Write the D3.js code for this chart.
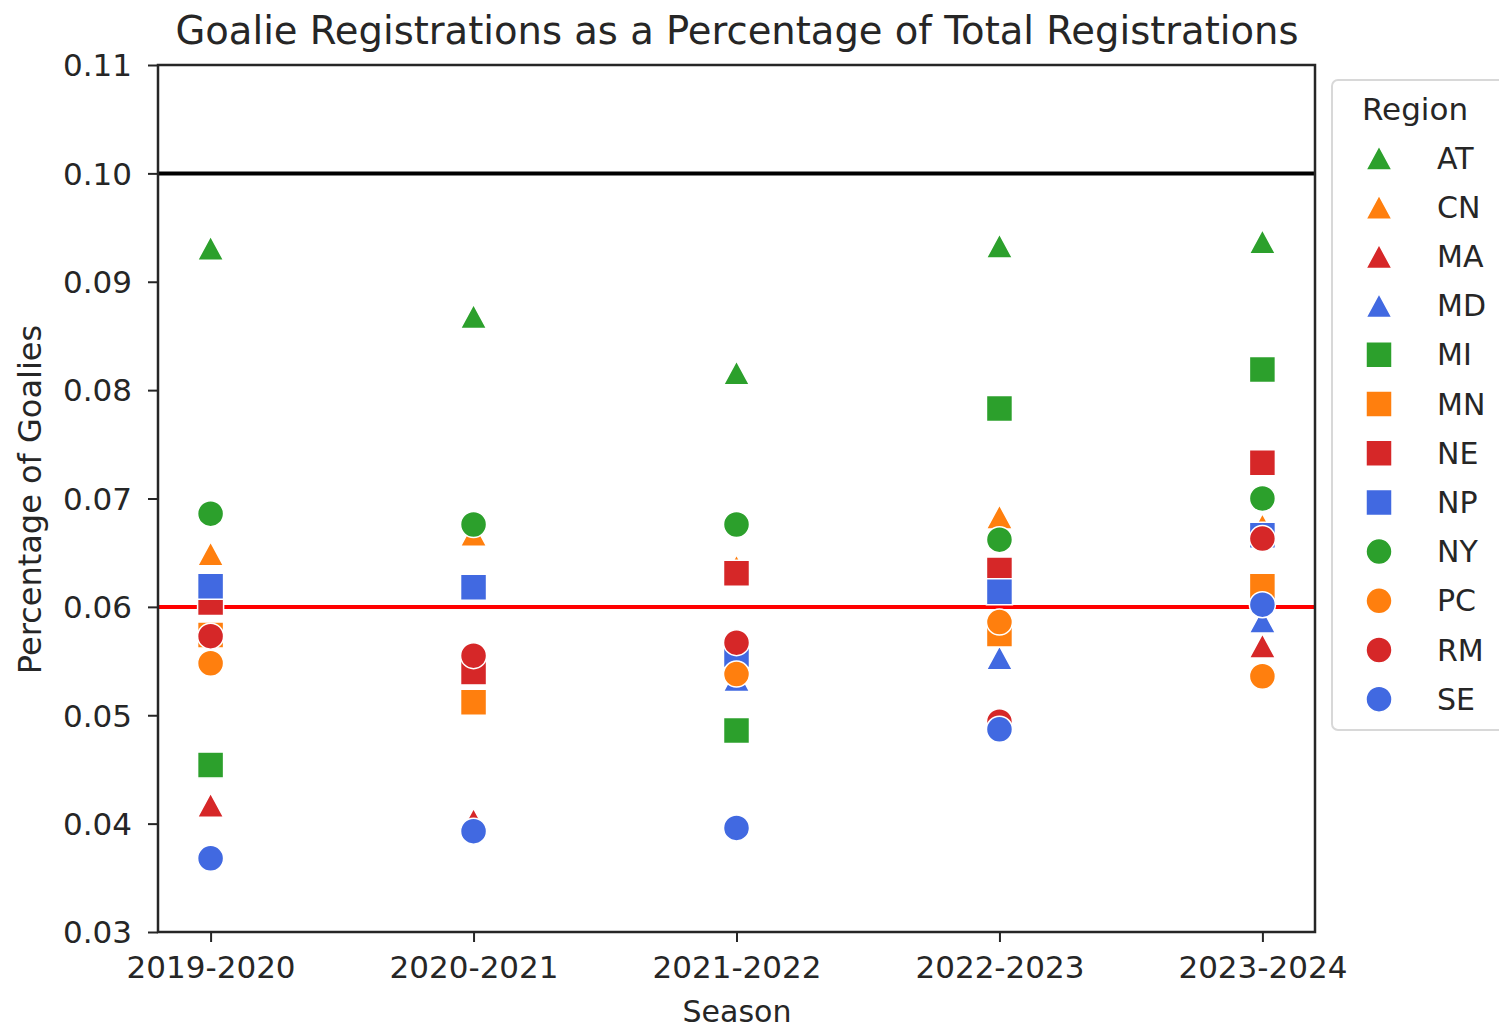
<!DOCTYPE html>
<html>
<head>
<meta charset="utf-8">
<script src="https://cdn.jsdelivr.net/npm/d3@7"></script>
<style>
  html, body { margin: 0; padding: 0; background: #fff; }
  text { font-family: "DejaVu Sans", sans-serif; fill: #262626; }
</style>
</head>
<body>
<svg id="chart" width="1499" height="1029"></svg>
<script>
const seasons = ["2019-2020", "2020-2021", "2021-2022", "2022-2023", "2023-2024"];
const regions = ["AT", "CN", "MA", "MD", "MI", "MN", "NE", "NP", "NY", "PC", "RM", "SE"];
const yTicks = [0.03, 0.04, 0.05, 0.06, 0.07, 0.08, 0.09, 0.10, 0.11];
const refLines = [0.10, 0.06];

// values per region, one per season (null = not visible in the reference)
const AT = [0.0931, 0.0868, 0.0816, 0.0933, 0.0937];
const CN = [0.0649, 0.0667, 0.0637, 0.0683, 0.0675];
const MA = [0.0417, 0.0403, null, null, 0.0564];
const MD = [null, null, 0.0533, 0.0553, 0.0587];
const MI = [0.0454, null, 0.0486, 0.0783, 0.0819];
const MN = [0.0574, 0.0512, null, 0.0575, 0.0619];
const NE = [0.0604, 0.0540, 0.0631, 0.0634, 0.0733];
const NP = [0.0619, 0.0618, 0.0556, 0.0614, 0.0666];
const NY = [0.0686, 0.0676, 0.0676, 0.0662, 0.0700];
const PC = [0.0548, null, 0.0538, 0.0586, 0.0536];
const RM = [0.0573, 0.0555, 0.0567, 0.0494, 0.0663];
const SE = [0.0368, 0.0393, 0.0396, 0.0487, 0.0602];

const seriesValues = { AT, CN, MA, MD, MI, MN, NE, NP, NY, PC, RM, SE };
const regionColors = ["#2ca02c", "#ff7f0e", "#d62728", "#4169e1"];
const regionShapes = ["triangle", "triangle", "triangle", "triangle",
                      "square", "square", "square", "square",
                      "circle", "circle", "circle", "circle"];

const svg = d3.select("#chart");
const M = { left: 158, right: 1315, top: 65, bottom: 932 };

const x = d3.scalePoint().domain(seasons).range([M.left, M.right]).padding(0.2);
const y = d3.scaleLinear().domain([0.03, 0.11]).range([M.bottom, M.top]);

const S = 26;
function shapePath(shape) {
  const h = S / 2;
  if (shape === "triangle") {
    const th = 12;
    return `M0,${-th} L${h},${th} L${-h},${th} Z`;
  }
  if (shape === "square") {
    return `M${-h},${-h} H${h} V${h} H${-h} Z`;
  }
  return d3.symbol(d3.symbolCircle, Math.PI * h * h)();
}

// title
svg.append("text")
  .attr("x", 737).attr("y", 44)
  .attr("text-anchor", "middle")
  .style("font-size", "38.5px")
  .text("Goalie Registrations as a Percentage of Total Registrations");

// reference lines
svg.append("line")
  .attr("x1", M.left).attr("x2", M.right)
  .attr("y1", y(refLines[0])).attr("y2", y(refLines[0]))
  .attr("stroke", "#000").attr("stroke-width", 4);
svg.append("line")
  .attr("x1", M.left).attr("x2", M.right)
  .attr("y1", y(refLines[1])).attr("y2", y(refLines[1]))
  .attr("stroke", "#ff0000").attr("stroke-width", 4);

// points
const pts = [];
seasons.forEach((s, si) => {
  regions.forEach((r, ri) => {
    const v = seriesValues[r][si];
    if (v !== null) pts.push({ season: s, region: r, ri, v });
  });
});
svg.append("g").selectAll("path").data(pts).join("path")
  .attr("d", d => shapePath(regionShapes[d.ri]))
  .attr("transform", d => `translate(${x(d.season)},${y(d.v)})`)
  .attr("fill", d => regionColors[d.ri % 4])
  .attr("stroke", "#fff").attr("stroke-width", 1.5);

// axes
const yAxis = d3.axisLeft(y).tickValues(yTicks).tickFormat(d3.format(".2f")).tickSize(10).tickPadding(16);
const xAxis = d3.axisBottom(x).tickSize(10).tickPadding(12);
const gy = svg.append("g").attr("transform", `translate(${M.left},0)`).call(yAxis);
const gx = svg.append("g").attr("transform", `translate(0,${M.bottom})`).call(xAxis);
[gx, gy].forEach(g => {
  g.select(".domain").remove();
  g.selectAll(".tick line").attr("stroke", "#262626").attr("stroke-width", 2);
  g.selectAll(".tick text").style("font-size", "31px").attr("fill", "#262626");
});
gx.selectAll(".tick text").attr("dy", "0.78em");
gy.selectAll(".tick text").attr("dy", "0.35em");

// frame
svg.append("rect")
  .attr("x", M.left).attr("y", M.top)
  .attr("width", M.right - M.left).attr("height", M.bottom - M.top)
  .attr("fill", "none").attr("stroke", "#262626").attr("stroke-width", 2.5);

// axis labels
svg.append("text")
  .attr("x", 737).attr("y", 1022)
  .attr("text-anchor", "middle").style("font-size", "30px")
  .text("Season");
svg.append("text")
  .attr("transform", `translate(41,${(322 + 677) / 2}) rotate(-90)`)
  .attr("text-anchor", "middle").style("font-size", "32px")
  .text("Percentage of Goalies");

// legend
const lg = svg.append("g");
lg.append("rect")
  .attr("x", 1332).attr("y", 80).attr("width", 180).attr("height", 650)
  .attr("rx", 6).attr("fill", "#fff").attr("stroke", "#d8d8d8").attr("stroke-width", 2);
lg.append("text")
  .attr("x", 1415).attr("y", 120).attr("text-anchor", "middle")
  .style("font-size", "31px").text("Region");
regions.forEach((r, i) => {
  const cy = 158 + i * 49.2;
  lg.append("path")
    .attr("d", shapePath(regionShapes[i]))
    .attr("transform", `translate(1379,${cy})`)
    .attr("fill", regionColors[i % 4]).attr("stroke", "#fff").attr("stroke-width", 1.5);
  lg.append("text")
    .attr("x", 1437).attr("y", cy).attr("dy", "0.35em")
    .style("font-size", "30px").text(r);
});
</script>
</body>
</html>
